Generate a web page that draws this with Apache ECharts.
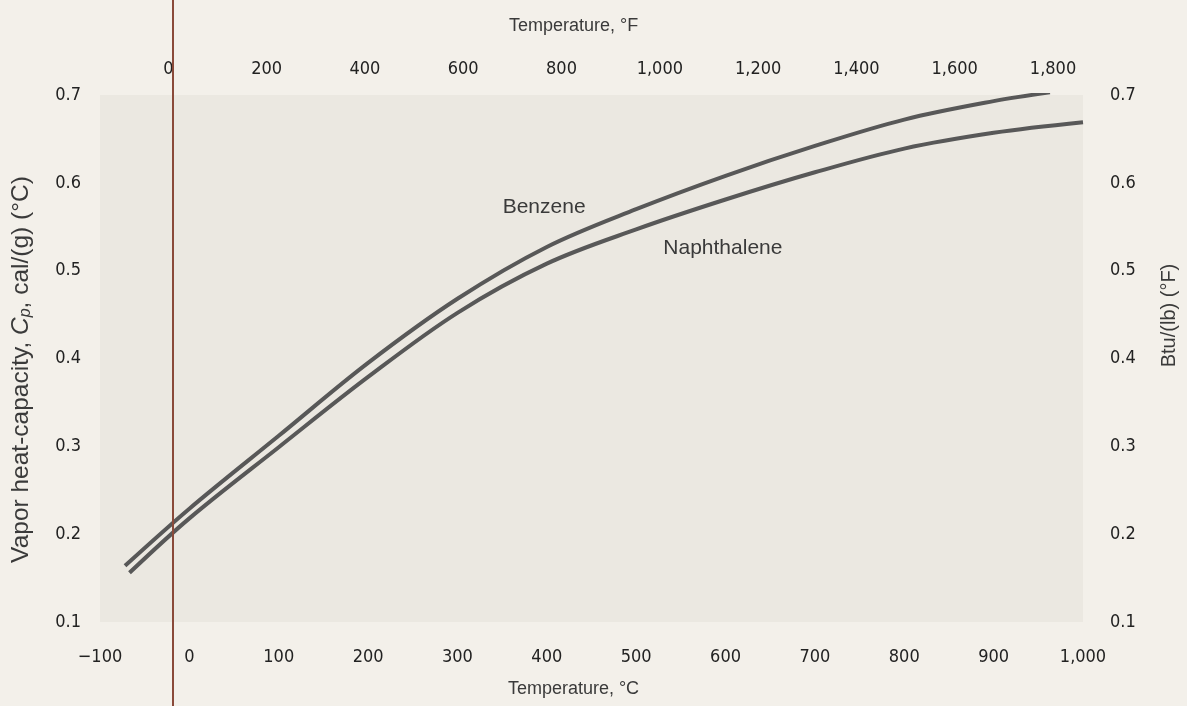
<!DOCTYPE html>
<html><head>
<meta charset="utf-8">
<title>Vapor heat-capacity</title>
<script src="https://cdn.jsdelivr.net/npm/echarts@6/dist/echarts.min.js"></script>
<style>
html,body{margin:0;padding:0;background:#f3f0ea}
#main{width:1187px;height:706px}
</style>
</head>
<body>
<div id="main"></div>
<script type="text/javascript">
// curves, temperature in deg C, Cp in cal/(g)(degC)
var benzeneT = [-72, 0, 100, 200, 300, 400, 500, 600, 700, 800, 900, 963];
var benzeneCp = [0.164, 0.229, 0.312, 0.395, 0.468, 0.527, 0.570, 0.608, 0.642, 0.672, 0.693, 0.703];
var naphT = [-67, 0, 100, 200, 300, 400, 500, 600, 700, 800, 900, 1000];
var naphCp = [0.156, 0.218, 0.299, 0.379, 0.452, 0.508, 0.547, 0.581, 0.612, 0.639, 0.657, 0.669];

// tick labels
var tempFTicks = [0, 200, 400, 600, 800, 1000, 1200, 1400, 1600, 1800];
var seriesNames = ['Benzene', 'Naphthalene'];
// where the curve names sit (deg C, Cp)
var benzeneLabelAt = [397, 0.572];
var naphLabelAt = [597, 0.526];

function zip(xs, ys) {
  var out = [];
  for (var i = 0; i < xs.length; i++) out.push([xs[i], ys[i]]);
  return out;
}
function fmt(v) {
  var s = Math.abs(v).toLocaleString('en-US');
  return v < 0 ? '\u2212' + s : s;
}

var numFont = "'DejaVu Sans Condensed', 'Liberation Sans Narrow', sans-serif";
var txtFont = "'Liberation Sans', Arial, sans-serif";

var myChart = echarts.init(document.getElementById('main'), null, {renderer: 'canvas'});

function curve(name, data, labelAt) {
  return {
    name: name,
    type: 'line',
    smooth: 0.35,
    symbol: 'none',
    data: data,
    lineStyle: {color: '#585858', width: 4},
    markPoint: {
      symbol: 'circle',
      symbolSize: 1,
      itemStyle: {color: 'rgba(0,0,0,0)'},
      label: {show: true, position: 'inside', formatter: name,
              color: '#3a3a3a', fontFamily: txtFont, fontSize: 21},
      data: [{coord: labelAt}]
    }
  };
}

option = {
  backgroundColor: '#f3f0ea',
  animation: false,
  grid: {
    left: 100, right: 102, top: 95, bottom: 84,
    show: true, backgroundColor: '#ebe8e1', borderWidth: 0
  },
  xAxis: [
    {
      type: 'value', position: 'bottom',
      min: -100, max: 1000, interval: 100,
      name: 'Temperature, \u00b0C', nameLocation: 'middle', nameGap: 58,
      nameTextStyle: {fontFamily: txtFont, fontSize: 18, color: '#3a3a3a', padding: [0, 36, 0, 0]},
      axisLine: {show: false}, axisTick: {show: false}, splitLine: {show: false},
      axisLabel: {margin: 26, fontFamily: numFont, fontSize: 18, color: '#222', formatter: fmt}
    },
    {
      // deg F scale, spaced as it is printed
      type: 'value', position: 'top',
      min: -139, max: 1861,
      name: 'Temperature, \u00b0F', nameLocation: 'middle', nameGap: 60,
      nameTextStyle: {fontFamily: txtFont, fontSize: 18, color: '#3a3a3a', padding: [0, 36, 0, 0]},
      axisLine: {show: false}, axisTick: {show: false}, splitLine: {show: false},
      axisLabel: {margin: 17, fontFamily: numFont, fontSize: 18, color: '#222',
                  customValues: tempFTicks, formatter: fmt}
    }
  ],
  yAxis: [
    {
      type: 'value', position: 'left',
      min: 0.1, max: 0.7, interval: 0.1,
      name: 'Vapor heat-capacity, {i|C}{s|p}, cal/(g) (\u00b0C)',
      nameLocation: 'middle', nameGap: 66,
      nameTextStyle: {
        fontFamily: txtFont, fontSize: 24.5, color: '#3a3a3a', padding: [0, 22, 0, 0],
        rich: {
          i: {fontFamily: txtFont, fontSize: 24.5, fontStyle: 'italic', color: '#3a3a3a'},
          s: {fontFamily: txtFont, fontSize: 16, fontStyle: 'italic', color: '#3a3a3a', padding: [10, 0, 0, 0]}
        }
      },
      axisLine: {show: false}, axisTick: {show: false}, splitLine: {show: false},
      axisLabel: {margin: 19, fontFamily: numFont, fontSize: 18, color: '#222',
                  formatter: function (v) { return v.toFixed(1); }}
    },
    {
      type: 'value', position: 'right',
      min: 0.1, max: 0.7, interval: 0.1,
      name: 'Btu/(lb) (\u00b0F)', nameLocation: 'middle', nameGap: 76, nameRotate: 90,
      nameTextStyle: {fontFamily: txtFont, fontSize: 20, color: '#3a3a3a', padding: [0, 0, 0, 86]},
      axisLine: {show: false}, axisTick: {show: false}, splitLine: {show: false},
      axisLabel: {margin: 27, fontFamily: numFont, fontSize: 18, color: '#222',
                  formatter: function (v) { return v.toFixed(1); }}
    }
  ],
  series: [
    curve(seriesNames[0], zip(benzeneT, benzeneCp), benzeneLabelAt),
    curve(seriesNames[1], zip(naphT, naphCp), naphLabelAt)
  ],
  graphic: [
    // reddish-brown rule running down the scanned page
    {type: 'rect', left: 172, top: 0, shape: {width: 2, height: 706},
     style: {fill: '#8a4a3a'}, z: 100}
  ]
};

myChart.setOption(option);
</script>
</body>
</html>
